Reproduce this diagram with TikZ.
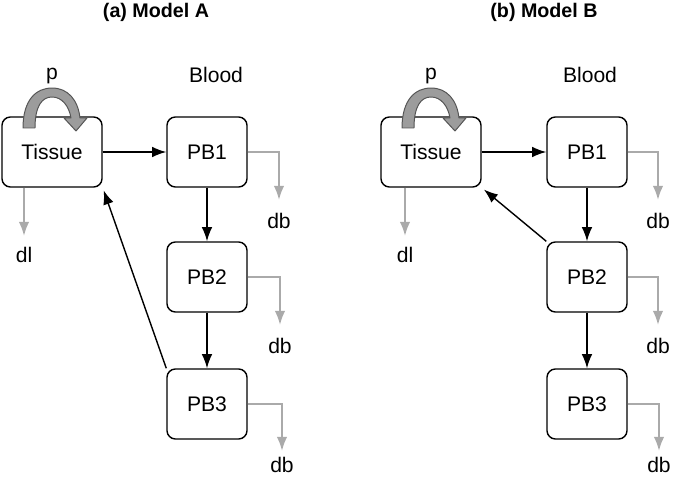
\documentclass[tikz,border=0pt]{standalone}
\usepackage{fontspec}
\setmainfont{Liberation Sans}
\usetikzlibrary{positioning}
\usetikzlibrary{arrows.meta}
\definecolor{lossgray}{HTML}{AAAAAA}
\definecolor{pfill}{HTML}{9C9C9C}
\definecolor{pline}{HTML}{555555}

\begin{document}
\begin{tikzpicture}[x=0.025cm, y=-0.025cm,
    comp/.style={draw, line width=1pt, rounded corners=6pt,
      minimum width=2cm, minimum height=1.75cm, font=\fontsize{15}{18}\selectfont},
    flow/.style={-{Latex[length=10pt,width=7.5pt]}, line width=1pt},
    loss/.style={-{Latex[length=10pt,width=7.5pt]}, line width=1.5pt, lossgray},
    lbl/.style={font=\fontsize{15}{18}\selectfont, inner sep=1pt},
    ttl/.style={font=\bfseries\fontsize{14}{17}\selectfont},
    prod/.style={fill=pfill, draw=pline, line width=0.7pt, line join=round}]
    \useasboundingbox (0,0) rectangle (673,478);

    % (a) Model A
    \path (156, 12) node [ttl] (ta) {(a) Model A};
    \path (52, 152) node [comp, minimum width=2.5cm] (aT) {Tissue};
    \path (207, 152) node [comp] (aP1) {PB1};
    \path (207, 277) node [comp] (aP2) {PB2};
    \path (207, 404) node [comp] (aP3) {PB3};
    \path (216, 75) node [lbl] (ab) {Blood};
    \path (52, 76) node [lbl] (ap) {p};
    \path[prod] (23,128) .. controls (23,100) and (36,88) .. (52,88)
	.. controls (68,88) and (78,100) .. (80,118) -- (87,118) -- (76,131)
	-- (64,118) -- (71,118) .. controls (69,106) and (62,97) .. (52,97)
	.. controls (42,97) and (35,106) .. (35,128) -- cycle;
    \draw [flow] (aT) -- (aP1);
    \draw [flow] (aP1) -- (aP2);
    \draw [flow] (aP2) -- (aP3);
    \draw [flow, shorten >=2pt] (aP3.north west) -- (aT.south east);
    \coordinate (adl) at (24, 236);
    \coordinate (ae1) at (279, 200);
    \coordinate (ae2) at (280, 325);
    \coordinate (ae3) at (282, 451);
    \draw [loss] (aT.south west -| adl) -- (adl);
    \draw [loss] (aP1.east) -| (ae1);
    \draw [loss] (aP2.east) -| (ae2);
    \draw [loss] (aP3.east) -| (ae3);
    \node [lbl, below=7pt of adl] (adll) {dl};
    \node [lbl, below=8pt of ae1] (adb1) {db};
    \node [lbl, below=8pt of ae2] (adb2) {db};
    \node [lbl, below=3pt of ae3] (adb3) {db};

    % (b) Model B
    \path (544, 12) node [ttl] (tb) {(b) Model B};
    \path (431, 152) node [comp, minimum width=2.5cm] (bT) {Tissue};
    \path (587, 152) node [comp] (bP1) {PB1};
    \path (587, 277) node [comp] (bP2) {PB2};
    \path (587, 404) node [comp] (bP3) {PB3};
    \path (590, 75) node [lbl] (bb) {Blood};
    \path (431, 76) node [lbl] (bp) {p};
    \path[prod, shift={(379,0)}] (23,128) .. controls (23,100) and (36,88) .. (52,88)
	.. controls (68,88) and (78,100) .. (80,118) -- (87,118) -- (76,131)
	-- (64,118) -- (71,118) .. controls (69,106) and (62,97) .. (52,97)
	.. controls (42,97) and (35,106) .. (35,128) -- cycle;
    \draw [flow] (bT) -- (bP1);
    \draw [flow] (bP1) -- (bP2);
    \draw [flow] (bP2) -- (bP3);
    \draw [flow, shorten >=2pt] (bP2.north west) -- (bT.south east);
    \coordinate (bdl) at (405, 236);
    \coordinate (be1) at (658, 200);
    \coordinate (be2) at (658, 325);
    \coordinate (be3) at (659, 451);
    \draw [loss] (bT.south west -| bdl) -- (bdl);
    \draw [loss] (bP1.east) -| (be1);
    \draw [loss] (bP2.east) -| (be2);
    \draw [loss] (bP3.east) -| (be3);
    \node [lbl, below=7pt of bdl] (bdll) {dl};
    \node [lbl, below=8pt of be1] (bdb1) {db};
    \node [lbl, below=8pt of be2] (bdb2) {db};
    \node [lbl, below=3pt of be3] (bdb3) {db};
\end{tikzpicture}
\end{document}
